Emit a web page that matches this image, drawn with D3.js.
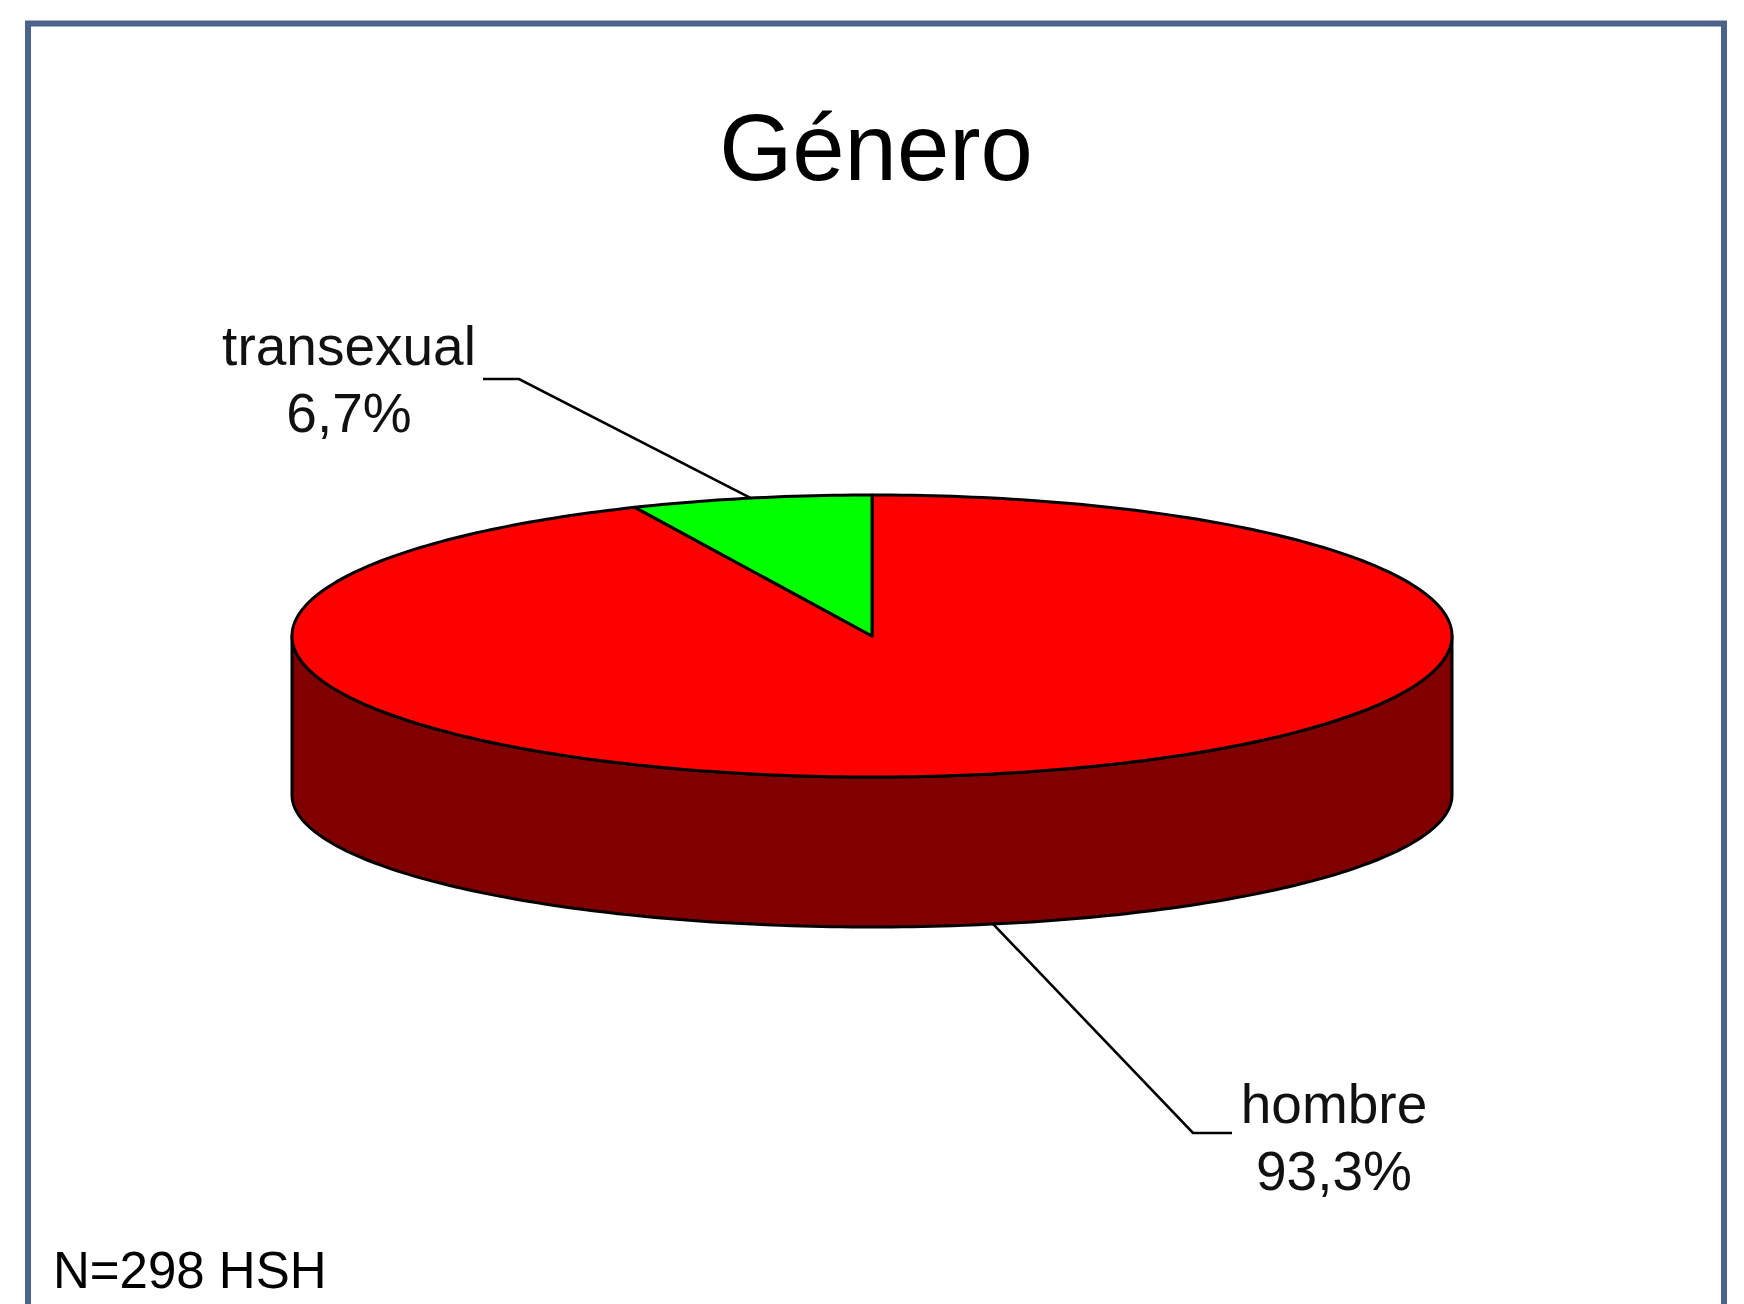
<!DOCTYPE html>
<html>
<head>
<meta charset="utf-8">
<script src="https://cdn.jsdelivr.net/npm/d3@7"></script>
<style>
  html, body { margin: 0; padding: 0; background: #ffffff; }
  svg { display: block; }
</style>
</head>
<body>
<script>
// ---- data ----
const title = "Género";
const categories = ["hombre", "transexual"];
const values = [93.3, 6.7];
const valueLabels = ["93,3%", "6,7%"];
const colors = ["#ff0000", "#00ff00"];
const sideColors = ["#800000", "#008000"];
const note = "N=298 HSH";

(function () {
const W = 1744, H = 1304;
const svg = d3.select("body").append("svg").attr("width", W).attr("height", H);
const font = "'Liberation Sans', Arial, sans-serif";

// frame
svg.append("rect")
  .attr("x", 28).attr("y", 23.5).attr("width", 1724 - 28).attr("height", 1400)
  .attr("fill", "none").attr("stroke", "#4b6289").attr("stroke-width", 6);

// title
svg.append("text").attr("x", 876).attr("y", 180)
  .attr("text-anchor", "middle").attr("font-family", font).attr("font-size", 94)
  .attr("fill", "#000").text(title);

// 3D pie geometry
const cx = 872, cy = 636, rx = 580, ry = 141;
const cyB = 795, ryB = 132;
const topPt = a => [cx + rx * Math.sin(a), cy - ry * Math.cos(a)];
const botPt = a => [cx + rx * Math.sin(a), cyB - ryB * Math.cos(a)];

const pie = d3.pie().sort(null).value(d => d)(values);
const line = d3.line();

// side wall (front half)
const sideAngles = d3.range(0, 181).map(i => Math.PI / 2 + i * Math.PI / 180);
const sidePts = sideAngles.map(topPt).concat(sideAngles.slice().reverse().map(botPt));
svg.append("path")
  .attr("d", line(sidePts) + "Z")
  .attr("fill", sideColors[0]).attr("stroke", "#000").attr("stroke-width", 3)
  .attr("stroke-linejoin", "round");

// top slices
pie.forEach((p, i) => {
  const n = Math.max(4, Math.ceil((p.endAngle - p.startAngle) / (Math.PI / 180)));
  const pts = [[cx, cy]];
  for (let k = 0; k <= n; k++) pts.push(topPt(p.startAngle + (p.endAngle - p.startAngle) * k / n));
  svg.append("path")
    .attr("d", line(pts) + "Z")
    .attr("fill", colors[i]).attr("stroke", "#000").attr("stroke-width", 3)
    .attr("stroke-linejoin", "round");
});

// leader lines and labels
const mid = p => (p.startAngle + p.endAngle) / 2;
const labelLayout = [
  { anchor: botPt(mid(pie[0])), elbow: [1193, 1133], end: [1232, 1133], tx: 1334, ty: 1123 },
  { anchor: topPt(mid(pie[1])), elbow: [519, 379], end: [483, 379], tx: 349, ty: 365 }
];
labelLayout.forEach((L, i) => {
  svg.append("path")
    .attr("d", line([L.anchor, L.elbow, L.end]))
    .attr("fill", "none").attr("stroke", "#000").attr("stroke-width", 2.6);
  const t = svg.append("text").attr("text-anchor", "middle")
    .attr("font-family", font).attr("font-size", 55).attr("fill", "#111");
  t.append("tspan").attr("x", L.tx).attr("y", L.ty).text(categories[i]);
  t.append("tspan").attr("x", L.tx).attr("y", L.ty + 67).text(valueLabels[i]);
});

// note
svg.append("text").attr("x", 53).attr("y", 1288)
  .attr("font-family", font).attr("font-size", 51).attr("fill", "#000").text(note);
})();
</script>
</body>
</html>
